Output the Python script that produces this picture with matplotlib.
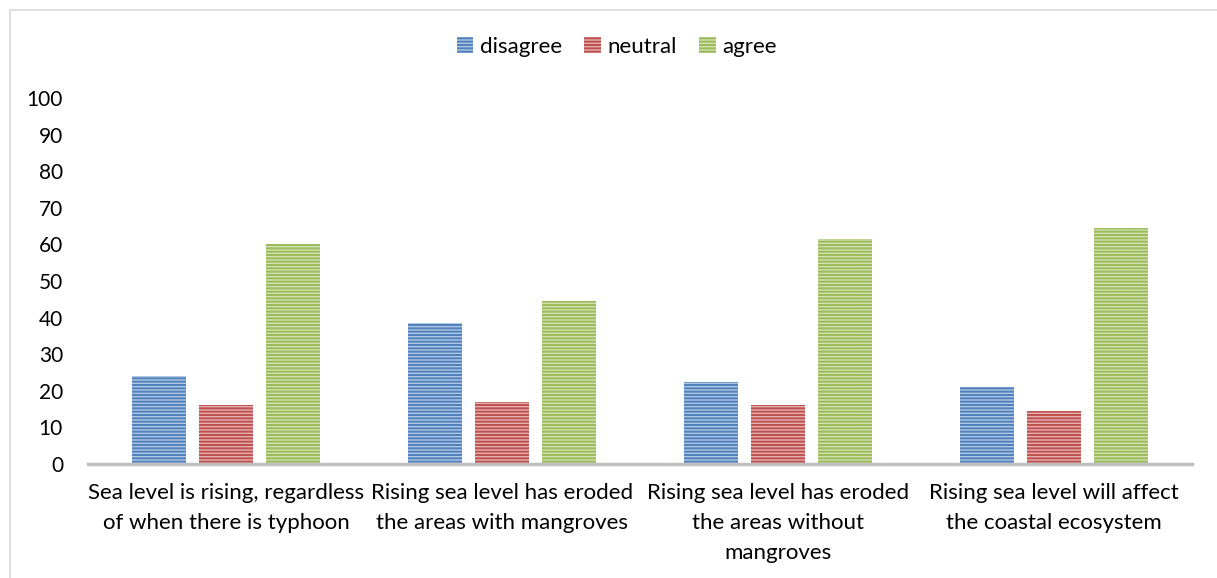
import matplotlib.pyplot as plt
import numpy as np
from matplotlib.colors import to_rgb
from matplotlib.patches import Rectangle

categories = [
    "Sea level is rising, regardless\nof when there is typhoon",
    "Rising sea level has eroded\nthe areas with mangroves",
    "Rising sea level has eroded\nthe areas without\nmangroves",
    "Rising sea level will affect\nthe coastal ecosystem",
]
series_names = ["disagree", "neutral", "agree"]
disagree = [24, 38.5, 22.5, 21]
neutral = [16, 17, 16, 14.5]
agree = [60, 44.5, 61.5, 64.5]
colors = ["#4F81BD", "#C0504D", "#9BBB59"]
yticks = list(range(0, 101, 10))


def lighten(color, amount=0.55):
    r, g, b = to_rgb(color)
    return (r + (1 - r) * amount, g + (1 - g) * amount, b + (1 - b) * amount)


plt.rcParams["font.family"] = ["Lato", "DejaVu Sans"]
plt.rcParams["hatch.linewidth"] = 1.4

fig = plt.figure(figsize=(12.17, 5.78), dpi=100)
ax = fig.add_axes([88 / 1217, 114 / 578, 1104 / 1217, 366 / 578])

x = np.arange(len(categories))
width = 0.196
offset = 0.243
for i, (name, vals) in enumerate(zip(series_names, [disagree, neutral, agree])):
    ax.bar(
        x + (i - 1) * offset, vals, width,
        facecolor=lighten(colors[i]), edgecolor=colors[i],
        hatch="-----", linewidth=0, label=name,
    )

ax.set_xlim(-0.5, len(categories) - 0.5)
ax.set_ylim(0, 100)
ax.set_yticks(yticks)
ax.set_xticks(x)
ax.set_xticklabels(categories, fontsize=16, linespacing=1.6)
ax.tick_params(axis="y", length=0, pad=18, labelsize=15)
ax.tick_params(axis="x", length=0, pad=14)

for side in ["left", "right", "top"]:
    ax.spines[side].set_visible(False)
ax.spines["bottom"].set_color("#BFBFBF")
ax.spines["bottom"].set_linewidth(2.5)

fig.legend(
    loc="center", bbox_to_anchor=(617 / 1217, 1 - 47 / 578), ncol=3,
    frameon=False, fontsize=16, handlelength=0.75, handleheight=0.75,
    handletextpad=0.3, columnspacing=1.0,
)

# thin frame around the chart area
fig.patches.append(Rectangle(
    (10 / 1217, -0.01), 1.02, 1 - 10 / 578 + 0.01, transform=fig.transFigure,
    fill=False, edgecolor="#D9D9D9", linewidth=1.2,
))

fig.savefig("out.png", dpi=100)
